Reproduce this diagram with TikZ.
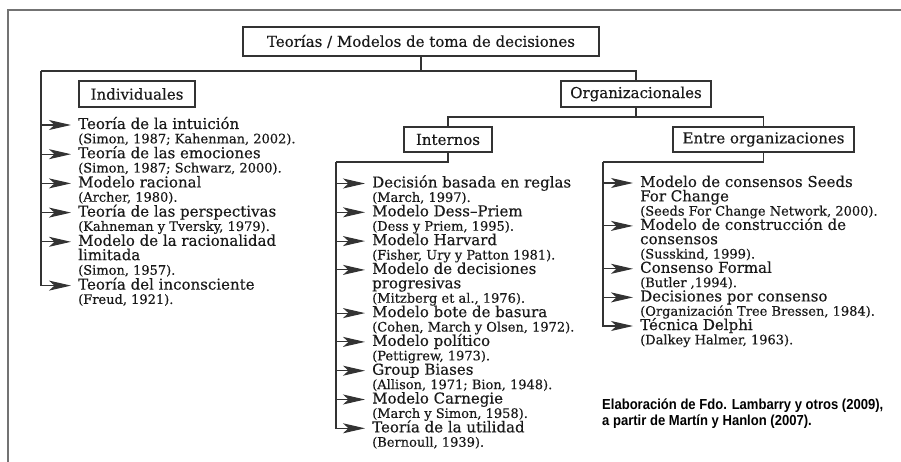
\documentclass[tikz,border=0pt]{standalone}
\usepackage{fontspec}
\setmainfont[FakeBold=0.4]{DejaVu Serif}
\newfontfamily\notefont[FakeStretch=0.9]{Liberation Sans}
\usetikzlibrary{arrows.meta}
\begin{document}
\begin{tikzpicture}[x=1pt,y=-1pt,
  box/.style={draw=black!80, line width=1.1pt, inner sep=0pt, text=black!90,
    font=\fontsize{15}{17}\selectfont},
  ttl/.style={anchor=west, inner sep=0pt, text=black!90, text height=11pt, text depth=3pt,
    font=\fontsize{15}{17}\selectfont},
  ttl2/.style={anchor=base west, inner sep=0pt, text=black!90,
    font=\fontsize{15}{17}\selectfont},
  cit/.style={anchor=base west, inner sep=0pt, text=black!90,
    font=\fontsize{13}{15}\selectfont},
  con/.style={draw=black!80, line width=1.1pt},
  arr/.style={con, arrows={-Stealth[length=22pt,width=10pt,inset=5.5pt]}, shorten >=7pt},
]
\useasboundingbox (0,0) rectangle (901,462);
% outer frame (cropped)
\draw[black!55, line width=2pt] (8.3,462) -- (8.3,10) -- (901,10);

% boxes
\node[box, minimum width=356pt, minimum height=29pt] (top) at (421,41.5) {Teorías / Modelos de toma de decisiones};
\node[box, minimum width=116pt, minimum height=26pt] (ind) at (137,94) {Individuales};
\node[box, minimum width=150pt, minimum height=26pt] (org) at (636,94) {Organizacionales};
\node[box, minimum width=88pt, minimum height=25pt] (int) at (448,139.5) {Internos};
\node[box, minimum width=181pt, minimum height=25pt] (ent) at (763.5,139.5) {Entre organizaciones};

\coordinate (Lt) at (41,71);
\coordinate (Mt) at (336,162);
\coordinate (Rt) at (603,162);

% left items
\node[ttl] (a1) at (78,125) {Teoría de la intuición};
\node[cit] (a1c) at (78,143.3) {(Simon, 1987; Kahenman, 2002).};
\node[ttl] (a2) at (78,154.2) {Teoría de las emociones};
\node[cit] (a2c) at (78,172.5) {(Simon, 1987; Schwarz, 2000).};
\node[ttl] (a3) at (78,183.4) {Modelo racional};
\node[cit] (a3c) at (78,201.7) {(Archer, 1980).};
\node[ttl] (a4) at (78,212.6) {Teoría de las perspectivas};
\node[cit] (a4c) at (78,230.9) {(Kahneman y Tversky, 1979).};
\node[ttl] (a5) at (78,241.8) {Modelo de la racionalidad};
\node[ttl2] (a5b) at (78,260.1) {limitada};
\node[cit] (a5c) at (78,274.7) {(Simon, 1957).};
\node[ttl] (a6) at (78,285.6) {Teoría del inconsciente};
\node[cit] (a6c) at (78,303.9) {(Freud, 1921).};

% middle items
\node[ttl] (m1) at (372,183.5) {Decisión basada en reglas};
\node[cit] (m1c) at (372,201.9) {(March, 1997).};
\node[ttl] (m2) at (372,212.3) {Modelo Dess–Priem};
\node[cit] (m2c) at (372,230.7) {(Dess y Priem, 1995).};
\node[ttl] (m3) at (372,241.1) {Modelo Harvard};
\node[cit] (m3c) at (372,259.5) {(Fisher, Ury y Patton 1981).};
\node[ttl] (m4) at (372,269.9) {Modelo de decisiones};
\node[ttl2] (m4b) at (372,288.3) {progresivas};
\node[cit] (m4c) at (372,302.7) {(Mitzberg et al., 1976).};
\node[ttl] (m5) at (372,313.1) {Modelo bote de basura};
\node[cit] (m5c) at (372,331.5) {(Cohen, March y Olsen, 1972).};
\node[ttl] (m6) at (372,341.9) {Modelo político};
\node[cit] (m6c) at (372,360.3) {(Pettigrew, 1973).};
\node[ttl] (m7) at (372,370.7) {Group Biases};
\node[cit] (m7c) at (372,389.1) {(Allison, 1971; Bion, 1948).};
\node[ttl] (m8) at (372,399.5) {Modelo Carnegie};
\node[cit] (m8c) at (372,417.9) {(March y Simon, 1958).};
\node[ttl] (m9) at (372,428.3) {Teoría de la utilidad};
\node[cit] (m9c) at (372,446.7) {(Bernoull, 1939).};

% right items
\node[ttl] (r1) at (640,183) {Modelo de consensos Seeds};
\node[ttl2] (r1b) at (640,201.3) {For Change};
\node[cit] (r1c) at (640,215.6) {(Seeds For Change Network, 2000).};
\node[ttl] (r2) at (640,225.9) {Modelo de construcción de};
\node[ttl2] (r2b) at (640,244.2) {consensos};
\node[cit] (r2c) at (640,258.5) {(Susskind, 1999).};
\node[ttl] (r3) at (640,268.8) {Consenso Formal};
\node[cit] (r3c) at (640,287.1) {(Butler ,1994).};
\node[ttl] (r4) at (640,297.4) {Decisiones por consenso};
\node[cit] (r4c) at (640,315.7) {(Organización Tree Bressen, 1984).};
\node[ttl] (r5) at (640,326) {Técnica Delphi};
\node[cit] (r5c) at (640,344.3) {(Dalkey Halmer, 1963).};

% footnote
\node[anchor=base west, align=left, inner sep=0pt, text=black,
  font=\notefont\bfseries\fontsize{14.5}{15.5}\selectfont] (note) at (602,425)
  {Elaboración de Fdo. Lambarry y otros (2009),\\a partir de Martín y Hanlon (2007).};

% connectors
\draw[con] (top.south) |- (Lt);
\draw[con] (Lt) -| (org.north);
\draw[con] (org.south) -- (org.south |- 0,117);
\draw[con] (int.north) |- (ent.north |- 0,117) -- (ent.north);
\draw[con] (int.south) |- (Mt);
\draw[con] (ent.south) |- (Rt);

\foreach \n in {a1,a2,a3,a4,a5} \draw[arr] (\n.west -| Lt) -- (\n.west);
\draw[arr] (Lt) |- (a6.west);
\foreach \n in {m1,m2,m3,m4,m5,m6,m7,m8} \draw[arr] (\n.west -| Mt) -- (\n.west);
\draw[arr] (Mt) |- (m9.west);
\foreach \n in {r1,r2,r3,r4} \draw[arr] (\n.west -| Rt) -- (\n.west);
\draw[arr] (Rt) |- (r5.west);
\end{tikzpicture}
\end{document}
